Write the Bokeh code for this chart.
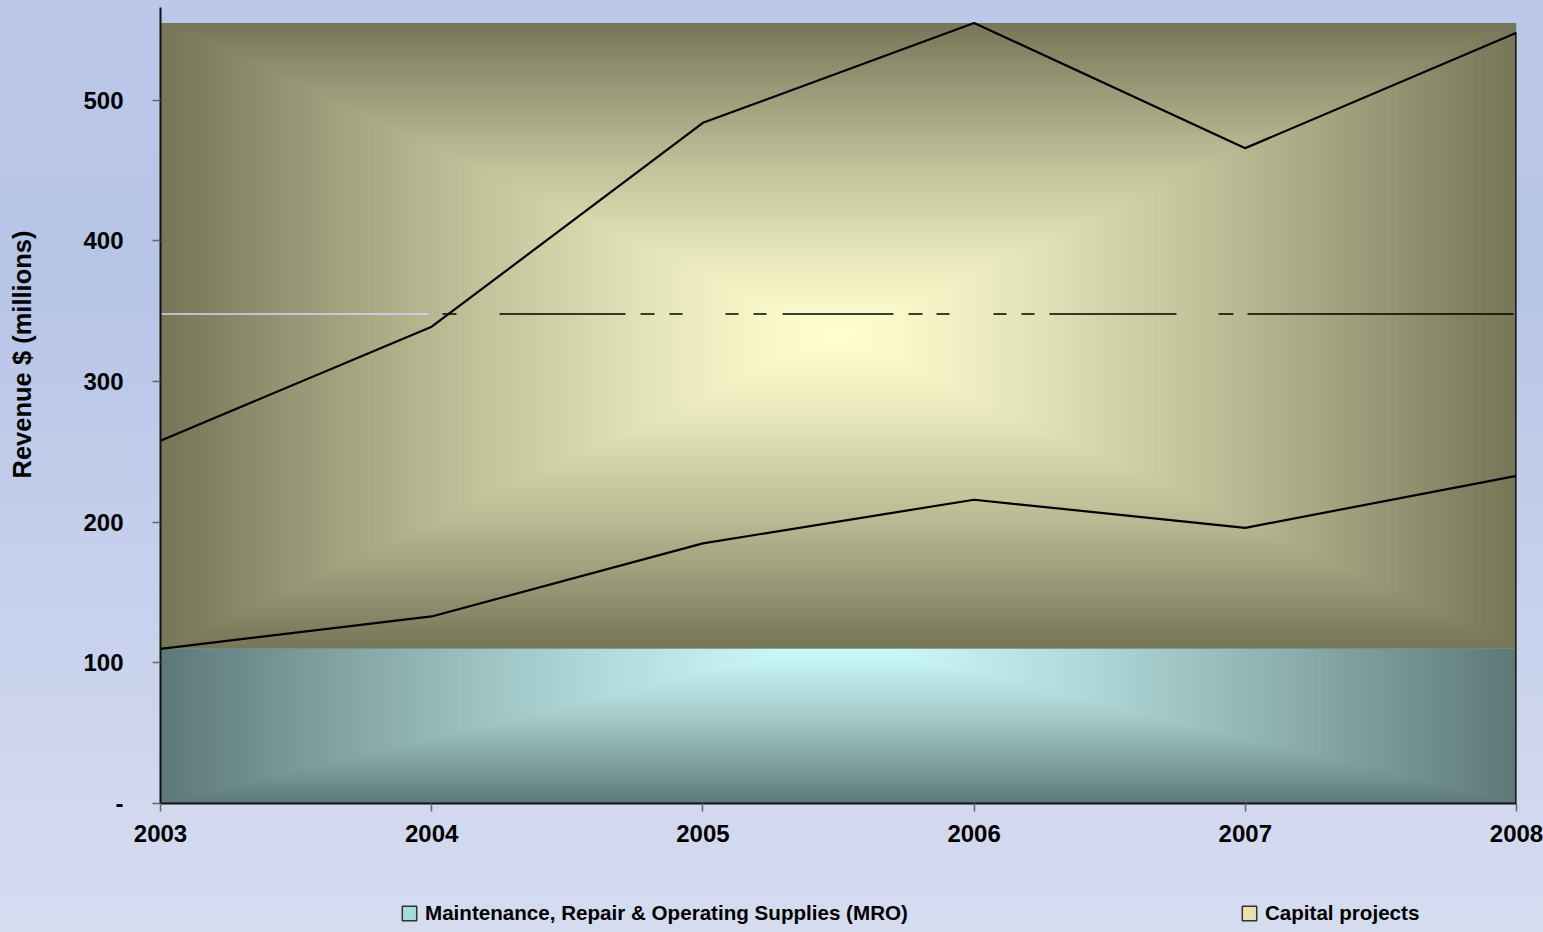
import math
import numpy as np
from bokeh.plotting import figure
from bokeh.layouts import column, row
from bokeh.models import FixedTicker, Legend, LegendItem, Label, InlineStyleSheet, Range1d
from bokeh.embed import file_html
from bokeh.resources import INLINE

# ---------------- data ----------------
years = [2003, 2004, 2005, 2006, 2007, 2008]
mro = [110, 133, 185, 216, 196, 233]            # Maintenance, Repair & Operating Supplies
capital = [148, 206, 299, 339, 270, 315]        # Capital projects (stacked on MRO)
reference_level = 348
y_ticks = [0, 100, 200, 300, 400, 500]
y_tick_labels = ["-", "100", "200", "300", "400", "500"]
series_names = ["Maintenance, Repair & Operating Supplies (MRO)", "Capital projects"]
y_title = "Revenue $ (millions)"

total = [m + c for m, c in zip(mro, capital)]

FONT = "Liberation Sans"
W, H = 1543, 932
TITLE_W = 40
LEGEND_H = 60


def clear(fig):
    fig.border_fill_alpha = 0
    fig.background_fill_alpha = 0
    fig.outline_line_color = None


# ---------------- main chart ----------------
p = figure(width=W - TITLE_W, height=H - LEGEND_H, x_range=(years[0], years[-1]), y_range=(0, 566),
           output_backend="svg", toolbar_location=None,
           min_border_left=160 - TITLE_W, min_border_right=27, min_border_top=7,
           min_border_bottom=H - LEGEND_H - 803)
clear(p)
p.xgrid.visible = False
p.ygrid.visible = False


def box_gradient(nx, ny, y_lo, y_hi, by_lo, by_hi, inner, outer, gamma=1.3):
    xs = np.linspace(-1.0, 1.0, nx)
    ys = np.linspace(y_lo, y_hi, ny)
    cy = (by_lo + by_hi) / 2.0
    hy = (by_hi - by_lo) / 2.0
    X, Y = np.meshgrid(xs, (ys - cy) / hy)
    t = np.clip(np.maximum(np.abs(X), np.abs(Y)), 0, 1) ** gamma
    t = t[..., None]
    inner = np.array(inner, dtype=float)
    outer = np.array(outer, dtype=float)
    rgb = inner * (1 - t) + outer * t
    img = np.empty((ny, nx), dtype=np.uint32)
    view = img.view(dtype=np.uint8).reshape((ny, nx, 4))
    view[..., 0:3] = np.clip(rgb, 0, 255).astype(np.uint8)
    view[..., 3] = 255
    return img


x0, x1 = years[0], years[-1]
# Capital projects area fill
cap_lo, cap_hi = min(mro), max(total)
img_cap = box_gradient(500, 300, cap_lo, cap_hi, cap_lo, cap_hi, (254, 254, 208), (118, 118, 88))
p.image_rgba(image=[img_cap], x=x0, y=cap_lo, dw=x1 - x0, dh=cap_hi - cap_lo)
# MRO area fill
mro_hi = min(mro)
img_mro = box_gradient(500, 150, 0, mro_hi, 0, max(mro), (206, 252, 252), (94, 120, 120))
p.image_rgba(image=[img_mro], x=x0, y=0, dw=x1 - x0, dh=mro_hi)

# reference line (light part + broken dashed part)
p.line([x0, x1], [reference_level, reference_level], line_color="#d0d8f4", line_width=1.5,
       line_dash="268 2000")
p.line([x0, x1], [reference_level, reference_level], line_color="black", line_width=1.5,
       line_dash="14 43 126 15 14 15 13 43 13 15 13 16 111 15 14 14 13 44 13 15 13 15 127 42 15 14 266 300",
       line_dash_offset=1089)

# series lines
p.line(years, total, line_color="black", line_width=2.2)
p.line(years, mro, line_color="black", line_width=2.2)
p.segment(x0=[years[-1]], y0=[0], x1=[years[-1]], y1=[total[-1]], line_color="black", line_width=2.5)

# axes
for ax in (p.xaxis[0], p.yaxis[0]):
    ax.major_label_text_font = FONT
    ax.major_label_text_font_style = "bold"
    ax.major_label_text_font_size = "24px"
    ax.major_label_text_color = "black"
    ax.axis_line_color = "#111111"
    ax.axis_line_width = 2
    ax.major_tick_line_color = "#666666"
    ax.major_tick_line_width = 1.5
    ax.major_tick_in = 0
    ax.major_tick_out = 8
    ax.minor_tick_line_color = None

p.xaxis.ticker = FixedTicker(ticks=years)
p.xaxis.major_label_overrides = {y: str(y) for y in years}
p.xaxis.major_label_standoff = 13
p.yaxis.ticker = FixedTicker(ticks=y_ticks)
p.yaxis.major_label_overrides = dict(zip(y_ticks, y_tick_labels))
p.yaxis.major_label_standoff = 29

# ---------------- y-axis title strip (its frame is aligned with the chart frame) ----------------
t_fig = figure(width=TITLE_W, height=H - LEGEND_H, x_range=Range1d(0, 1), y_range=Range1d(0, 1),
               output_backend="svg", toolbar_location=None,
               min_border_left=0, min_border_right=0, min_border_top=0, min_border_bottom=0)
clear(t_fig)
t_fig.axis.visible = False
t_fig.grid.visible = False
t_fig.add_layout(Label(x=21, y=803 - 354, x_units="screen", y_units="screen", text=y_title,
                       angle=math.pi / 2, text_align="center", text_baseline="middle",
                       text_font=FONT, text_font_style="bold", text_font_size="25.5px",
                       text_color="black"))

# ---------------- legend strip ----------------
l_fig = figure(width=W, height=LEGEND_H, x_range=Range1d(0, 1), y_range=Range1d(0, 1),
               output_backend="svg", toolbar_location=None,
               min_border_left=0, min_border_right=0, min_border_top=0, min_border_bottom=0)
clear(l_fig)
l_fig.axis.visible = False
l_fig.grid.visible = False
# legend swatches (their own geometry lies outside this strip's view)
r_mro = l_fig.quad(left=[2], right=[3], top=[3], bottom=[2], fill_color="#a4dcdc", line_color="#333333", line_width=1.5)
r_cap = l_fig.quad(left=[2], right=[3], top=[3], bottom=[2], fill_color="#e4e4aa", line_color="#333333", line_width=1.5)
legend = Legend(items=[LegendItem(label=series_names[0], renderers=[r_mro]),
                       LegendItem(label=series_names[1], renderers=[r_cap])],
                orientation="horizontal", location=(400, 7), spacing=332,
                padding=0, margin=0, border_line_alpha=0, background_fill_alpha=0,
                label_text_font=FONT, label_text_font_style="bold", label_text_font_size="20.6px",
                label_text_color="black", glyph_width=18, glyph_height=18, label_standoff=7)
l_fig.add_layout(legend)

layout = column(row(t_fig, p, spacing=0), l_fig, spacing=0)
layout.stylesheets = [InlineStyleSheet(css=":host { background: linear-gradient(to bottom, #bcc8e8 0%, #b6c4e6 30%, #c6d0ec 60%, #d6dcf0 100%); }")]

open("out.html", "w").write(file_html(layout, INLINE))
